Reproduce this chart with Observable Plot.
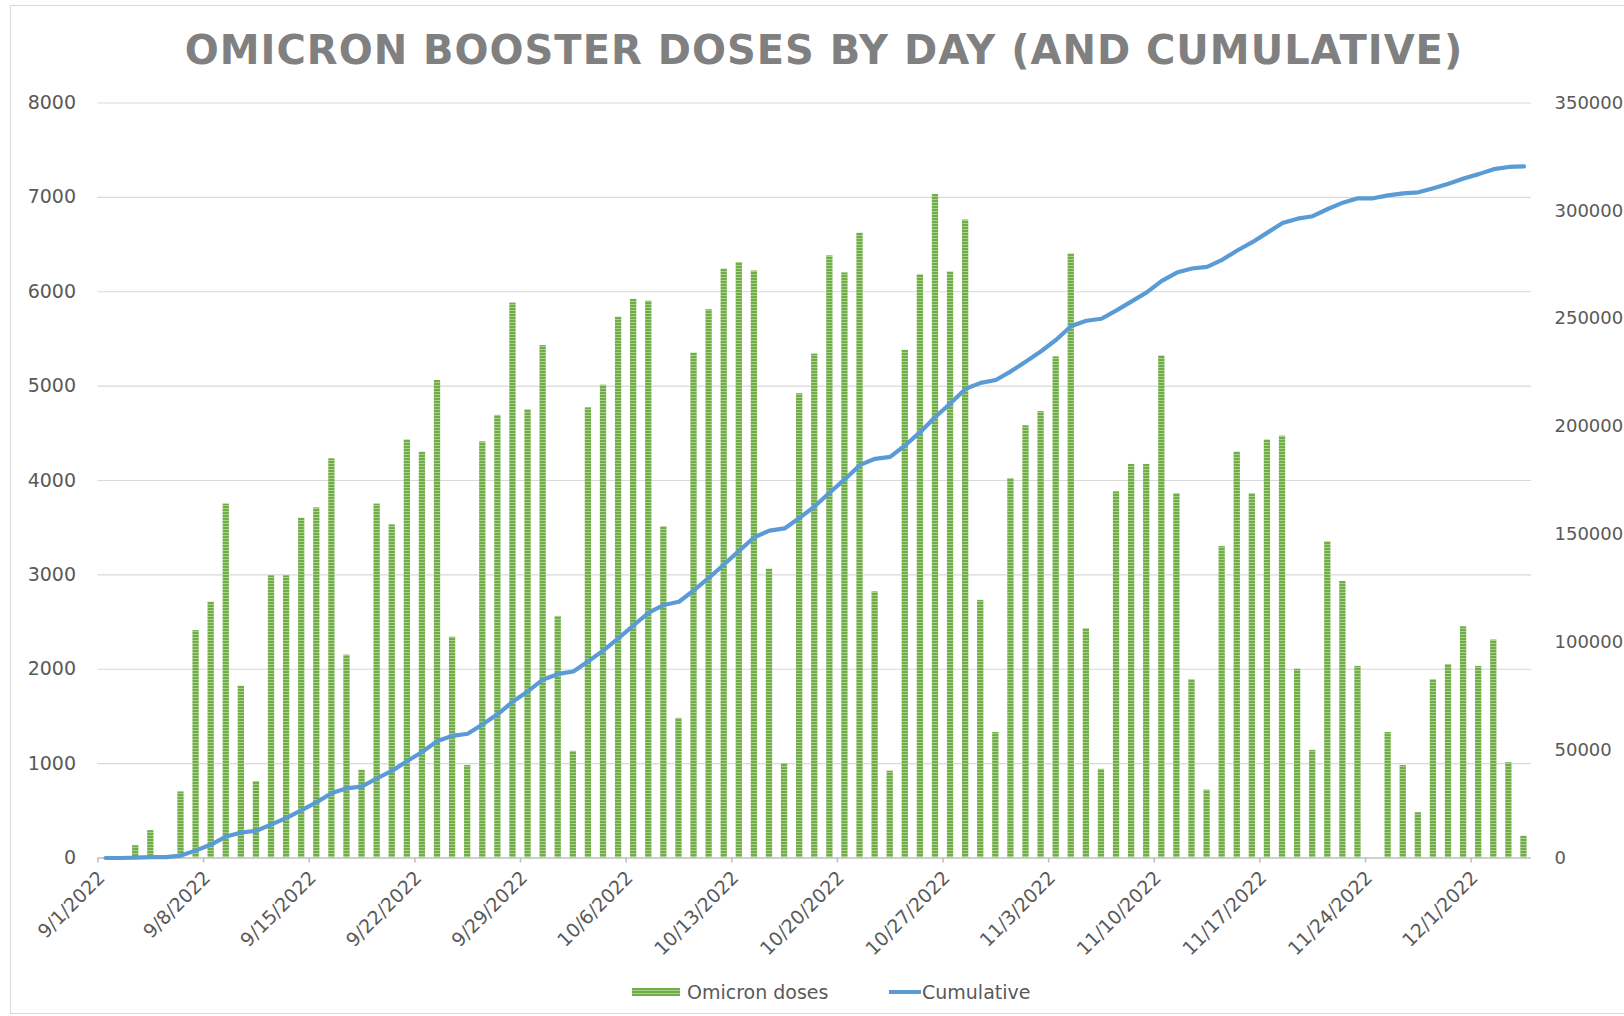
<!DOCTYPE html>
<html>
<head>
<meta charset="utf-8">
<script src="https://cdn.jsdelivr.net/npm/d3@7"></script>
<script src="https://cdn.jsdelivr.net/npm/@observablehq/plot@0.6"></script>
<style>
  html, body { margin: 0; padding: 0; background: #fff; width: 1624px; height: 1016px; overflow: hidden; }
  #frame { position: absolute; left: 10px; top: 5px; width: 1700px; height: 1009px; border: 1px solid #d9d9d9; box-sizing: border-box; }
  #title { position: absolute; left: 0; top: 30px; width: 1648px; text-align: center; font: bold 40px "DejaVu Sans"; letter-spacing: 1px; color: #808080; line-height: 40px; white-space: nowrap; }
  #chart { position: absolute; left: 0; top: 80px; }
  .legtext { position: absolute; top: 981px; font: 19px "DejaVu Sans"; color: #595959; line-height: 22px; white-space: nowrap; }
  .sw { position: absolute; }
</style>
</head>
<body>
<div id="frame"></div>
<div id="title">OMICRON BOOSTER DOSES BY DAY (AND CUMULATIVE)</div>
<div id="chart"></div>
<div class="sw" id="sw1" style="left:632px;top:988px;width:48px;height:8px;background:repeating-linear-gradient(to bottom,#70ad47 0 2px,#a9d18e 2px 3px);"></div>
<div class="legtext" style="left:687px;">Omicron doses</div>
<div class="sw" id="sw2" style="left:889px;top:990px;width:32px;height:4px;background:#5b9bd5;"></div>
<div class="legtext" style="left:922px;">Cumulative</div>
<script>
// ---- data ----
const startDate = "2022-09-01";
// daily Omicron booster doses, 9/1/2022 .. 12/4/2022
const doses = [
  0, 0, 130, 290, 0, 700, 2410, 2710, 3750, 1820,
  810, 2990, 2990, 3600, 3710, 4230, 2150, 930, 3750, 3530,
  4430, 4300, 5060, 2340, 980, 4410, 4690, 5880, 4750, 5430,
  2560, 1130, 4770, 5010, 5730, 5920, 5900, 3510, 1480, 5350,
  5810, 6240, 6310, 6220, 3060, 1000, 4920, 5340, 6380, 6200,
  6620, 2820, 920, 5380, 6180, 7030, 6210, 6760, 2730, 1330,
  4020,
  4580, 4730, 5310, 6400, 2430, 940, 3880, 4170, 4170, 5320,
  3860, 1890, 720, 3300, 4300, 3860, 4430, 4470, 2000, 1140,
  3350, 2930, 2030, 0, 1330, 980, 480, 1890, 2050, 2450,
  2030, 2310, 1010, 230
];
// cumulative doses (secondary axis)
const cumulative = [
  0, 0, 130, 420, 420, 1120, 3530, 6240, 9990, 11810,
  12620, 15610, 18600, 22200, 25910, 30140, 32290, 33220, 36970, 40500,
  44930, 49230, 54290, 56630, 57610, 62020, 66710, 72590, 77340, 82770,
  85330, 86460, 91230, 96240, 101970, 107890, 113790, 117300, 118780, 124130,
  129940, 136180, 142490, 148710, 151770, 152770, 157690, 163030, 169410, 175610,
  182230, 185050, 185970, 191350, 197530, 204560, 210770, 217530, 220260, 221590,
  225610,
  230190, 234920, 240230, 246630, 249060, 250000, 253880, 258050, 262220, 267540,
  271400, 273290, 274010, 277310, 281610, 285470, 289900, 294370, 296370, 297510,
  300860, 303790, 305820, 305820, 307150, 308130, 308610, 310500, 312550, 315000,
  317030, 319340, 320350, 320580
];
const leftTicks = [0, 1000, 2000, 3000, 4000, 5000, 6000, 7000, 8000];
const rightTicks = [0, 50000, 100000, 150000, 200000, 250000, 300000, 350000];
const seriesNames = ["Omicron doses", "Cumulative"];

// ---- build ----
const start = d3.utcParse("%Y-%m-%d")(startDate);
const end = d3.utcDay.offset(start, doses.length);
const rows = doses.map((v, i) => {
  const d = d3.utcDay.offset(start, i);
  return { date: d, next: d3.utcDay.offset(d, 1), mid: d3.utcHour.offset(d, 12), doses: v, cum: cumulative[i] };
});
const weekTicks = d3.utcDay.range(start, end, 7);
const fmt = d3.utcFormat("%-m/%-d/%Y");
const leftMax = d3.max(leftTicks), rightMax = d3.max(rightTicks);
const k = leftMax / rightMax;

const plot = Plot.plot({
  width: 1624,
  height: 880,
  marginTop: 22.5,
  marginBottom: 102.5,
  marginLeft: 97.5,
  marginRight: 93,
  style: { fontFamily: "DejaVu Sans", fontSize: "19px", color: "#595959", background: "transparent", overflow: "visible" },
  x: { type: "utc", domain: [start, end] },
  y: { domain: [0, leftMax] },
  marks: [
    Plot.gridY(leftTicks.filter(v => v > 0), { stroke: "#d9d9d9", strokeOpacity: 1, strokeWidth: 1.2 }),
    Plot.rectY(rows, { x1: "date", x2: "next", y: "doses", fill: "url(#barhatch)", insetLeft: 4.4, insetRight: 4.4 }),
    Plot.ruleY([0], { stroke: "#bfbfbf", strokeWidth: 1.6 }),
    Plot.axisX(weekTicks, { tickSize: 5, tickFormat: () => "", stroke: "#bfbfbf", strokeWidth: 1.6, label: null }),
    Plot.text(weekTicks, { x: d => d, frameAnchor: "bottom", text: d => fmt(d), rotate: -45, textAnchor: "end", dx: 8, dy: 21, fill: "#595959", fontSize: 19 }),
    Plot.line(rows, { x: "mid", y: d => d.cum * k, stroke: "#5b9bd5", strokeWidth: 4.2, strokeLinejoin: "round", strokeLinecap: "round" }),
    Plot.axisY(leftTicks, { anchor: "left", tickSize: 0, tickPadding: 22, label: null, fill: "#595959", tickFormat: d3.format("d") }),
    Plot.axisY(rightTicks.map(v => v * k), { anchor: "right", tickSize: 0, tickPadding: 23, label: null, fill: "#595959", fontSize: 18, tickFormat: d => d3.format("d")(Math.round(d / k)) })
  ]
});

const defs = d3.select(plot).insert("defs", ":first-child");
const pat = defs.append("pattern").attr("id", "barhatch").attr("patternUnits", "userSpaceOnUse").attr("width", 4).attr("height", 3);
pat.append("rect").attr("width", 4).attr("height", 3).attr("fill", "#70ad47");
pat.append("rect").attr("y", 2).attr("width", 4).attr("height", 1).attr("fill", "#a9d18e");

document.getElementById("chart").appendChild(plot);
</script>
</body>
</html>
